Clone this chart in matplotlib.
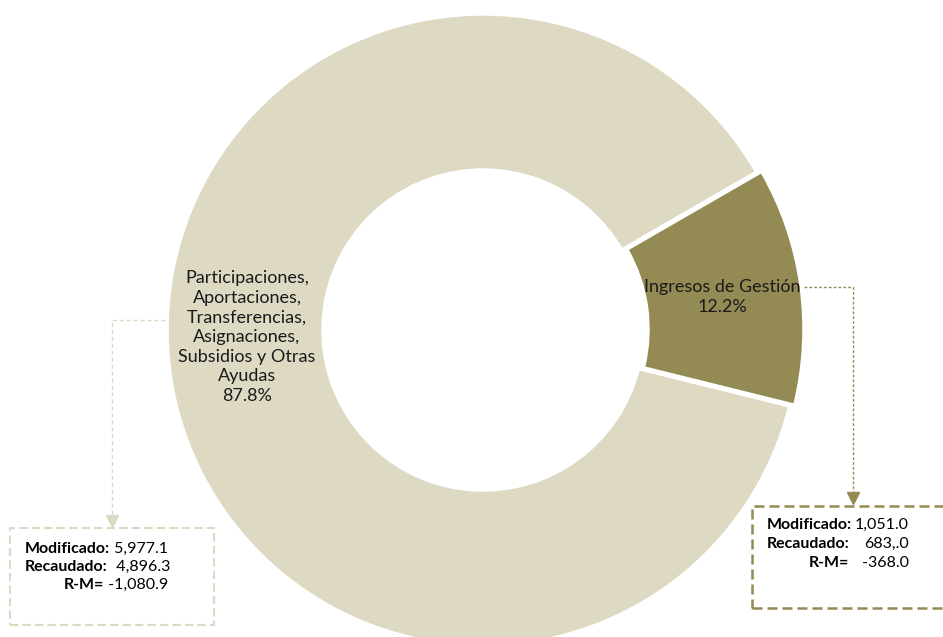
import matplotlib.pyplot as plt
from matplotlib.patches import Rectangle

plt.rcParams['font.family'] = ['Lato', 'DejaVu Sans']

# datos
categorias = ['Participaciones,\nAportaciones,\nTransferencias,\nAsignaciones,\nSubsidios y Otras\nAyudas',
              'Ingresos de Gestión']
porcentajes = [87.8, 12.2]
modificado = ['5,977.1', '1,051.0']
recaudado = ['4,896.3', '683,.0']
r_m = ['-1,080.9', '-368.0']

colores = ['#DDD9C3', '#948A54']

W, H = 943, 637
fig = plt.figure(figsize=(W / 100, H / 100), dpi=100)
ax = fig.add_axes([0, 0, 1, 1])


def py(y):
    # coordenada de pixel (desde arriba) -> datos
    return H - y


cx, cy, R = 483, py(330), 316
# explode va en unidades de datos, no relativo al radio
wedges, _ = ax.pie(porcentajes, colors=colores, startangle=30, counterclock=True,
                   radius=R, center=(cx, cy), explode=[0, 0.016 * R],
                   wedgeprops=dict(width=R - 160, edgecolor='white', linewidth=2.5),
                   frame=True)
ax.set_xlim(0, W)
ax.set_ylim(0, H)
ax.set_aspect('equal')
ax.axis('off')

# etiquetas
ax.text(247, py(337), f'{categorias[0]}\n{porcentajes[0]}%', ha='center', va='center',
        fontsize=13, color='#1a1a1a', linespacing=1.28)
ax.text(722, py(297), f'{categorias[1]}\n{porcentajes[1]}%', ha='center', va='center',
        fontsize=13, color='#1a1a1a', linespacing=1.28)

# conectores
ax.plot([165, 112, 112], [py(320), py(320), py(518)], color=colores[0], lw=1,
        ls=(0, (3, 2)))
ax.plot([112], [py(521)], marker='v', ms=9, color=colores[0], mec=colores[0])
ax.plot([804, 853, 853], [py(287), py(287), py(495)], color=colores[1], lw=1,
        ls=(0, (2, 1.5)))
ax.plot([853], [py(498)], marker='v', ms=9, color=colores[1], mec=colores[1])

# cuadros
ax.add_patch(Rectangle((10, py(625)), 204, 97, fill=False, ec=colores[0], lw=1.5,
                       ls=(0, (4, 2))))
ax.add_patch(Rectangle((752, py(608)), 200, 102, fill=False, ec=colores[1], lw=1.8,
                       ls=(0, (4, 2))))

fs = 11.5


def linea(x, y, etiqueta, valor):
    t = ax.text(x, y, etiqueta, fontweight='bold', fontsize=fs, va='baseline', ha='left')
    ax.annotate(' ' + valor, xy=(1, 0), xycoords=t, va='bottom', ha='left', fontsize=fs)


linea(25, py(553), 'Modificado:', modificado[0])
linea(25, py(571), 'Recaudado:', ' ' + recaudado[0])
linea(64, py(589), 'R-M=', r_m[0])

x0, xv = 767, 909
for yy, lab, val in [(529, 'Modificado:', modificado[1]), (548, 'Recaudado:', recaudado[1])]:
    ax.text(x0, py(yy), lab, fontweight='bold', fontsize=fs, va='baseline')
    ax.text(xv, py(yy), val, fontsize=fs, va='baseline', ha='right')
ax.text(809, py(567), 'R-M=', fontweight='bold', fontsize=fs, va='baseline')
ax.text(xv, py(567), r_m[1], fontsize=fs, va='baseline', ha='right')

fig.savefig('out.png', dpi=100)
